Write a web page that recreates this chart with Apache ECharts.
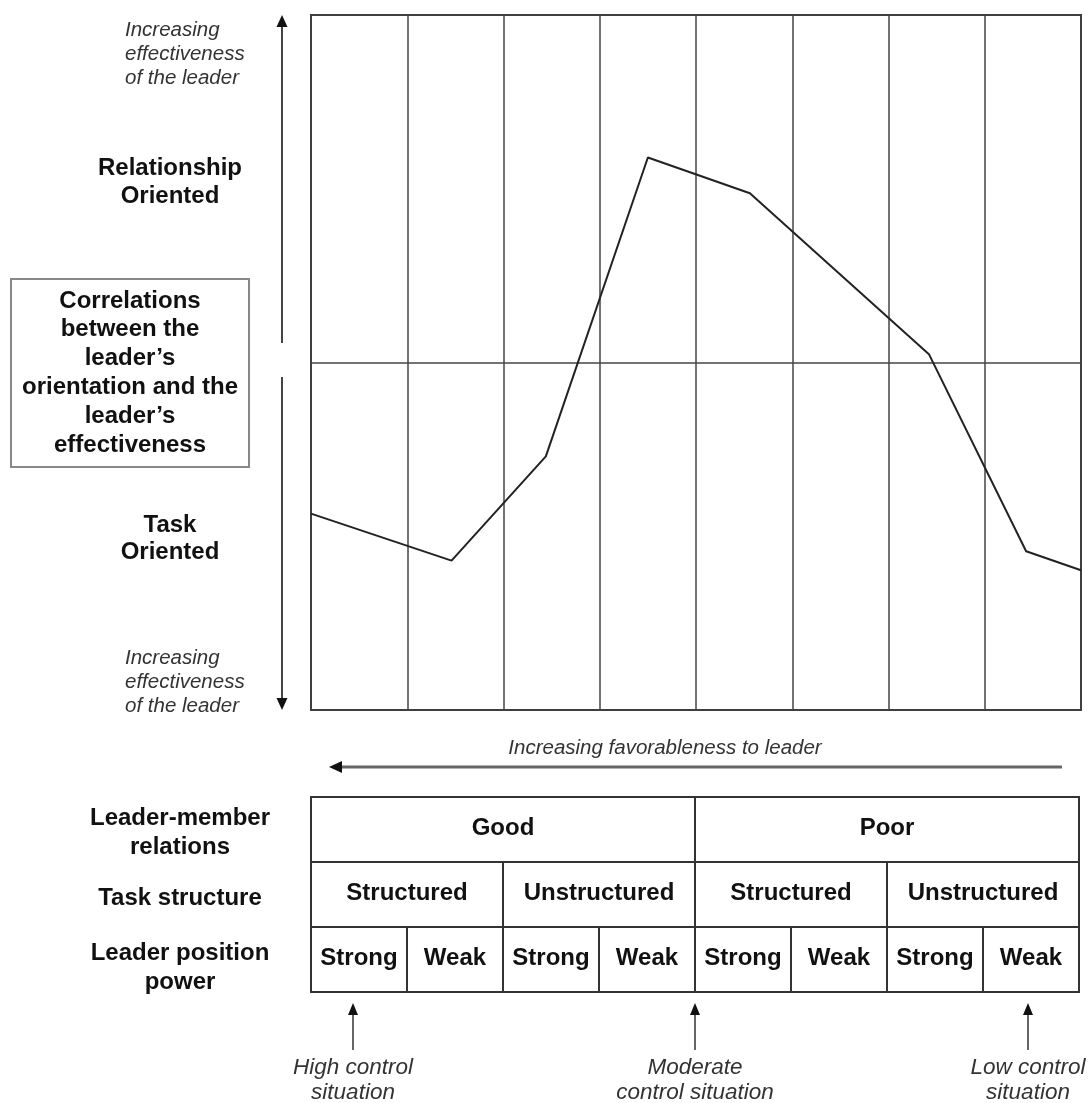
<!DOCTYPE html>
<html>
<head>
<meta charset="utf-8">
<script src="https://cdn.jsdelivr.net/npm/echarts@6/dist/echarts.min.js"></script>
<style>
html,body{margin:0;padding:0;background:#fff;}
#chart{width:1091px;height:1103px;}
</style>
</head>
<body>
<div id="chart"></div>
<script>
// ---- data ----
// x positions in octant units (0 = left edge, 8 = right edge)
const octantX = [0, 1.46, 2.44, 3.5, 4.56, 6.42, 7.43, 8];
// correlation between leader orientation and effectiveness (scaled -1..1)
const correlation = [-0.435, -0.57, -0.27, 0.59, 0.487, 0.024, -0.543, -0.598];

const relations = ['Good', 'Poor'];
const taskStructure = ['Structured', 'Unstructured', 'Structured', 'Unstructured'];
const positionPower = ['Strong', 'Weak', 'Strong', 'Weak', 'Strong', 'Weak', 'Strong', 'Weak'];

const rowLabels = [['Leader-member', 'relations'], ['Task structure'], ['Leader position', 'power']];
const controlLabels = [['High control', 'situation'], ['Moderate', 'control situation'], ['Low control', 'situation']];
const controlX = [353, 695, 1028];

// ---- build ----
const lineData = octantX.map((x, i) => [x, correlation[i]]);
const tableCells = [];
relations.forEach((t, i) => tableCells.push([i * 4, i * 4 + 4, 0, t]));
taskStructure.forEach((t, i) => tableCells.push([i * 2, i * 2 + 2, 1, t]));
positionPower.forEach((t, i) => tableCells.push([i, i + 1, 2, t]));

const FONT = "'Liberation Sans', Arial, Helvetica, sans-serif";
const BOLD = 'bold 24px ' + FONT;
const ITAL = 'italic 20.5px ' + FONT;
const ITAL2 = 'italic 22.5px ' + FONT;

function txt(x, y, s, font, fill, align) {
  return { type: 'text', x: x, y: y, silent: true,
    style: { text: s, font: font, fill: fill || '#111', align: align || 'center', verticalAlign: 'middle' } };
}
function lines(x, y0, dy, arr, font, fill, align) {
  return arr.map((s, i) => txt(x, y0 + i * dy, s, font, fill, align));
}

const graphics = [];
// left vertical arrows
graphics.push({ type: 'line', shape: { x1: 282, y1: 25, x2: 282, y2: 343 }, style: { stroke: '#444', lineWidth: 2 } });
graphics.push({ type: 'polygon', shape: { points: [[276.5, 27], [287.5, 27], [282, 15]] }, style: { fill: '#111' } });
graphics.push({ type: 'line', shape: { x1: 282, y1: 377, x2: 282, y2: 700 }, style: { stroke: '#444', lineWidth: 2 } });
graphics.push({ type: 'polygon', shape: { points: [[276.5, 698], [287.5, 698], [282, 710]] }, style: { fill: '#111' } });
// left texts
graphics.push(...lines(125, 30, 24, ['Increasing', 'effectiveness', 'of the leader'], ITAL, '#333', 'left'));
graphics.push(...lines(170, 168, 28, ['Relationship', 'Oriented'], BOLD));
graphics.push({ type: 'rect', shape: { x: 11, y: 279, width: 238, height: 188 }, style: { fill: '#fff', stroke: '#888', lineWidth: 2 } });
graphics.push(...lines(130, 301, 28.8, ['Correlations', 'between the', 'leader\u2019s', 'orientation and the', 'leader\u2019s', 'effectiveness'], BOLD));
graphics.push(...lines(170, 525, 27, ['Task', 'Oriented'], BOLD));
graphics.push(...lines(125, 658, 24, ['Increasing', 'effectiveness', 'of the leader'], ITAL, '#333', 'left'));
// favorableness arrow
graphics.push(txt(665, 748, 'Increasing favorableness to leader', ITAL, '#333'));
graphics.push({ type: 'line', shape: { x1: 338, y1: 767, x2: 1062, y2: 767 }, style: { stroke: '#666', lineWidth: 3 } });
graphics.push({ type: 'polygon', shape: { points: [[329, 767], [342, 761], [342, 773]] }, style: { fill: '#111' } });
// table row labels
graphics.push(...lines(180, 818, 29, rowLabels[0], BOLD));
graphics.push(...lines(180, 898, 29, rowLabels[1], BOLD));
graphics.push(...lines(180, 953, 29, rowLabels[2], BOLD));
// control arrows
controlX.forEach((x, i) => {
  graphics.push({ type: 'line', shape: { x1: x, y1: 1012, x2: x, y2: 1050 }, style: { stroke: '#333', lineWidth: 1.5 } });
  graphics.push({ type: 'polygon', shape: { points: [[x - 5, 1015], [x + 5, 1015], [x, 1003]] }, style: { fill: '#111' } });
  graphics.push(...lines(x, 1068, 25, controlLabels[i], ITAL2, '#333'));
});

const chart = echarts.init(document.getElementById('chart'), null, { renderer: 'canvas' });
chart.setOption({
  backgroundColor: '#fff',
  animation: false,
  grid: [
    { left: 311, top: 15, width: 770, height: 695, show: true, borderColor: '#333', borderWidth: 2, backgroundColor: 'transparent' },
    { left: 311, top: 797, width: 768, height: 195, show: false }
  ],
  xAxis: [
    { gridIndex: 0, type: 'value', min: 0, max: 8, interval: 1,
      axisLine: { show: false }, axisTick: { show: false }, axisLabel: { show: false },
      splitLine: { show: true, lineStyle: { color: '#444', width: 1.5 } } },
    { gridIndex: 1, type: 'value', min: 0, max: 8, show: false }
  ],
  yAxis: [
    { gridIndex: 0, type: 'value', min: -1, max: 1, interval: 1,
      axisLine: { show: false }, axisTick: { show: false }, axisLabel: { show: false },
      splitLine: { show: true, lineStyle: { color: '#444', width: 1.5 } } },
    { gridIndex: 1, type: 'value', min: 0, max: 3, inverse: true, show: false }
  ],
  series: [
    { type: 'line', xAxisIndex: 0, yAxisIndex: 0, data: lineData, symbol: 'none',
      lineStyle: { color: '#222', width: 2 }, z: 5 },
    { type: 'custom', xAxisIndex: 1, yAxisIndex: 1, data: tableCells,
      renderItem: function (params, api) {
        const p0 = api.coord([api.value(0), api.value(2)]);
        const p1 = api.coord([api.value(1), api.value(2) + 1]);
        const label = tableCells[params.dataIndex][3];
        return { type: 'group', children: [
          { type: 'rect', shape: { x: p0[0], y: p0[1], width: p1[0] - p0[0], height: p1[1] - p0[1] },
            style: { fill: '#fff', stroke: '#333', lineWidth: 2 } },
          { type: 'text', style: { text: label, x: (p0[0] + p1[0]) / 2, y: (p0[1] + p1[1]) / 2 - 1,
            align: 'center', verticalAlign: 'middle', font: BOLD, fill: '#111' } }
        ] };
      } }
  ],
  graphic: graphics
});
</script>
</body>
</html>
